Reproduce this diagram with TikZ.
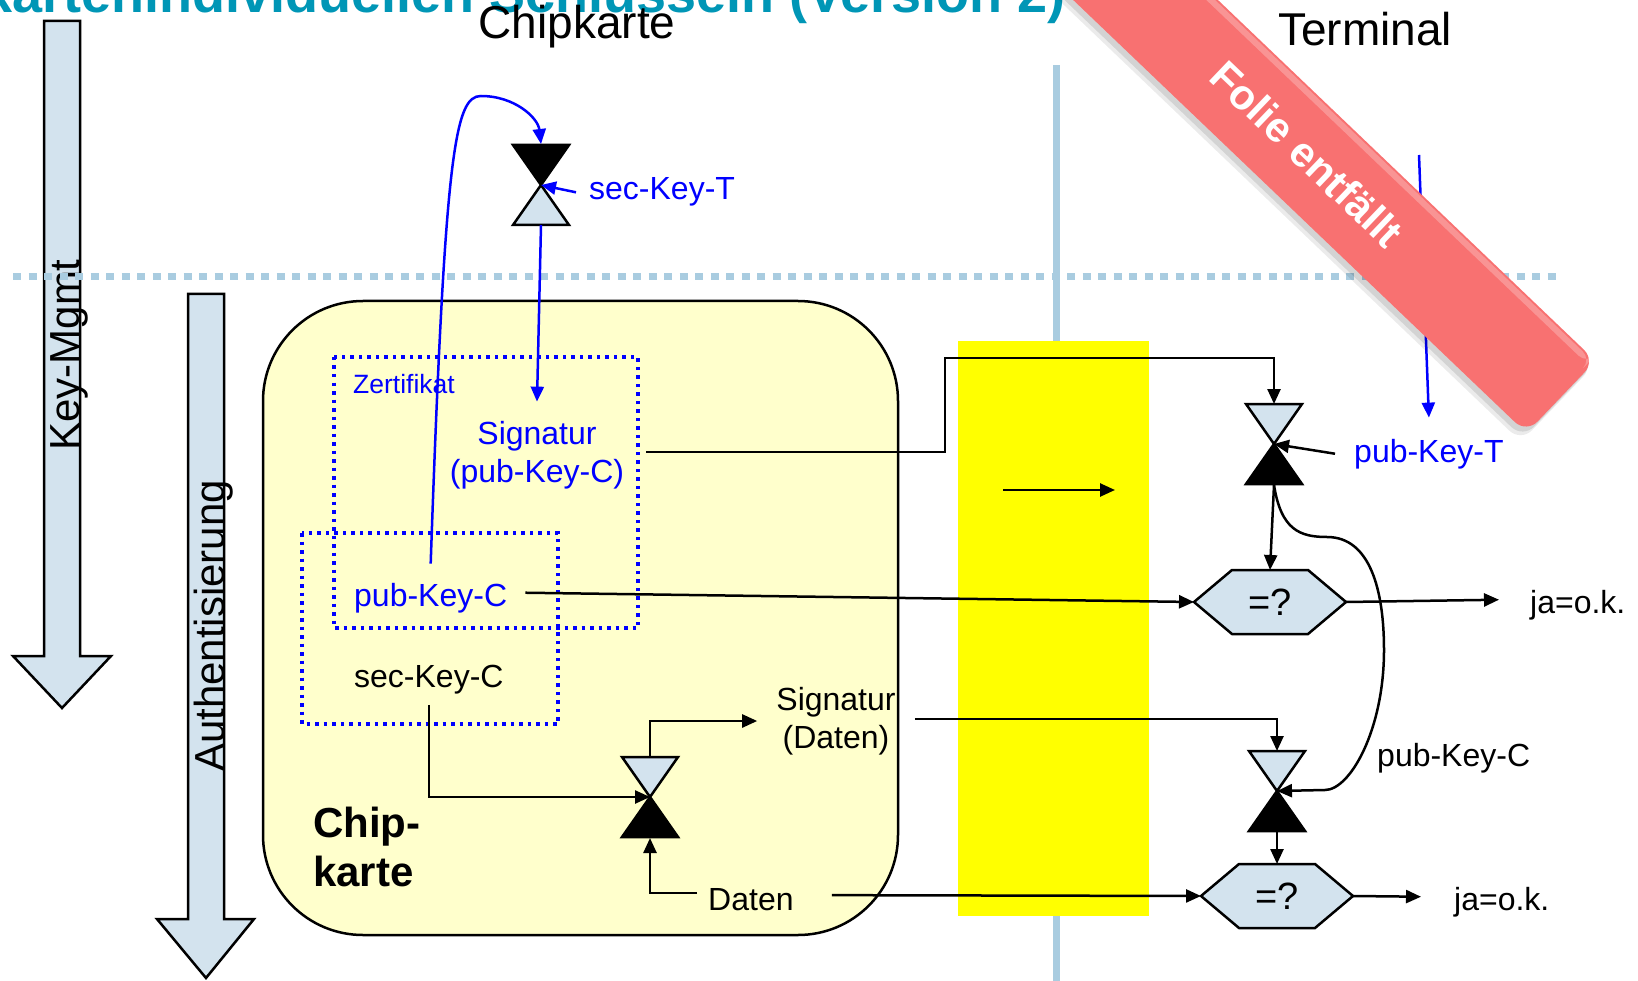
\documentclass[tikz,border=0pt]{standalone}
\usepackage{fontspec}
\setmainfont{Liberation Sans}
\usetikzlibrary{arrows.meta}

\definecolor{hellblau}{RGB}{211,227,238}
\definecolor{linienblau}{RGB}{169,204,224}
\definecolor{titelblau}{RGB}{0,150,182}
\definecolor{chipgelb}{RGB}{255,255,204}
\definecolor{gelb}{RGB}{255,255,0}
\definecolor{folienrot}{RGB}{248,113,113}

\tikzset{
  pfeil/.style={-{Triangle[length=15pt,width=13pt]}, line width=2.5pt},
  form/.style={draw, line width=2.5pt, line join=miter},
  punktbox/.style={draw=blue, line width=3.5pt, dash pattern=on 3.5pt off 5pt},
  txt/.style={inner sep=0pt, font=\fontsize{32}{38.5}\selectfont},
  klein/.style={inner sep=0pt, font=\fontsize{26.5}{30}\selectfont},
  gross/.style={inner sep=0pt, font=\fontsize{46}{52}\selectfont},
  seite/.style={inner sep=0pt, font=\fontsize{42}{48}\selectfont},
  fett/.style={inner sep=0pt, font=\fontsize{42}{49}\selectfont\bfseries}
}

% Sanduhr: Spitze, Farbe oben, Farbe unten
\newcommand{\sanduhr}[3]{%
  \draw[form, fill=#2] (#1) -- ++(-28,-40) -- ++(56,0) -- cycle;
  \draw[form, fill=#3] (#1) -- ++(-28,40) -- ++(56,0) -- cycle;}
% Vergleich (Sechseck um die Mitte)
\newcommand{\sechseck}[1]{%
  \draw[form, fill=hellblau] (#1) ++(-76,0) -- ++(38,-32) -- ++(76,0) -- ++(38,32) -- ++(-38,32) -- ++(-76,0) -- cycle;}

\begin{document}
\begin{tikzpicture}[x=1pt,y=-1pt]
        \useasboundingbox (0,0) rectangle (1638,981);
        \clip (0,0) rectangle (1638,981);

        % Coordinates
        \coordinate (ST) at (541,185);
        \coordinate (STo) at (541,144);
        \coordinate (STu) at (541,225);
        \coordinate (SC) at (650,797);
        \coordinate (SCo) at (650,757);
        \coordinate (SCu) at (650,838);
        \coordinate (SR) at (1274,444);
        \coordinate (SRo) at (1274,404);
        \coordinate (SRu) at (1274,485);
        \coordinate (SS) at (1277,791);
        \coordinate (SSo) at (1277,751);
        \coordinate (SSu) at (1277,832);
        \coordinate (H1) at (1270,602);
        \coordinate (H1l) at (1194,602);
        \coordinate (H1r) at (1346,602);
        \coordinate (H1o) at (1270,570);
        \coordinate (H2) at (1277,896);
        \coordinate (H2l) at (1201,896);
        \coordinate (H2r) at (1353,896);
        \coordinate (H2o) at (1277,864);
        \coordinate (K1) at (945,358);
        \coordinate (B1) at (1419,155);
        \coordinate (Y1) at (1003,490);
        \coordinate (Y2) at (1115,490);

        % Hintergrund
        \node[anchor=base east, inner sep=0pt, text=titelblau, font=\fontsize{54}{60}\selectfont\bfseries] (titel) at (1066,13) {kartenindividuellen Schlüsseln (Version 2)};
        \draw[linienblau, line width=7pt] (1056,65) -- (1056,981);
        \draw[form, fill=hellblau] (44,21) -- (80,21) -- (80,656) -- (111,656) -- (62,708) -- (13,656) -- (44,656) -- cycle;
        \draw[form, fill=hellblau] (188,294) -- (224,294) -- (224,919) -- (254,919) -- (206,978) -- (157,919) -- (188,919) -- cycle;
        \node[seite, rotate=90, anchor=base] (km) at (79,355) {Key-Mgmt};
        \node[seite, rotate=90, anchor=base] (auth) at (224,626) {Authentisierung};
        \draw[linienblau, line width=7pt, dash pattern=on 8pt off 7.5pt] (13,277) -- (1557,277);
        \fill[gelb] (958,341) rectangle (1149,916);
        \draw[line width=2.5pt, fill=chipgelb, rounded corners=100pt] (263,301) rectangle (898,935);
        \draw[punktbox] (334,357) rectangle (638,628);
        \draw[punktbox] (302,533) rectangle (558,724);

        % Texte
        \node[gross, anchor=base] (chip) at (577,39) {Chipkarte};
        \node[gross, anchor=base] (term) at (1365,46) {Terminal};
        \node[fett, anchor=west, align=left] (chipk) at (313,847) {Chip-\\karte};
        \node[klein, text=blue, anchor=base west] (zert) at (353,393) {Zertifikat};
        \node[txt, text=blue, align=center] (sigc) at (537,455) {Signatur\\(pub-Key-C)};
        \node[txt, text=blue, anchor=base west] (pkc) at (354,606) {pub-Key-C};
        \node[txt, anchor=base west] (skc) at (354,687) {sec-Key-C};
        \node[txt, text=blue, anchor=base west] (skt) at (589,200) {sec-Key-T};
        \node[txt, text=blue, anchor=base west] (pkt) at (1354,462) {pub-Key-T};
        \node[txt, align=center] (sigd) at (836,721) {Signatur\\(Daten)};
        \node[txt, anchor=base west] (dat) at (708,910) {Daten};
        \node[txt, anchor=base west] (pkc2) at (1377,766) {pub-Key-C};
        \node[txt, anchor=base west] (ok1) at (1530,613) {ja=o.k.};
        \node[txt, anchor=base west] (ok2) at (1454,910) {ja=o.k.};

        % Sanduhren und Vergleiche
        \sanduhr{ST}{black}{hellblau}
        \sanduhr{SC}{hellblau}{black}
        \sanduhr{SR}{hellblau}{black}
        \sanduhr{SS}{hellblau}{black}
        \sechseck{H1}
        \sechseck{H2}
        \node[inner sep=0pt, font=\fontsize{38}{44}\selectfont] (v1) at (H1) {=?};
        \node[inner sep=0pt, font=\fontsize{38}{44}\selectfont] (v2) at (H2) {=?};

        % Drawing
        \draw[pfeil, blue] ([yshift=19pt]pkc.north) .. controls (445,150) and (455,96) .. (481,96) .. controls (515,96) and (538,118) .. (STo);
        \draw[pfeil, blue] ([xshift=-13pt]skt.west) -- (ST);
        \draw[pfeil, blue] (STu) -- ([yshift=19pt]sigc.north);
        \draw[pfeil] ([xshift=22pt,yshift=3pt]sigc.east) -| (K1) -| (SRo);
        \draw[pfeil] ([xshift=-19pt]pkt.west) -- (SR);
        \draw[pfeil, blue] (B1) -- ([yshift=21pt]pkt.north);
        \draw[pfeil] (SRu) -- (H1o);
        \draw[pfeil] (SRu) .. controls (1281,530) and (1300,537) .. (1327,537) .. controls (1370,537) and (1384,590) .. (1384,650) .. controls (1384,730) and (1350,790) .. (1325,790) -- (SS);
        \draw[pfeil] ([xshift=18pt,yshift=5pt]pkc.east) -- (H1l);
        \draw[pfeil] (H1r) -- ([xshift=-31pt,yshift=5pt]ok1.west);
        \draw[pfeil] ([xshift=19pt,yshift=2pt]sigd.east) -| (SSo);
        \draw[pfeil] (SSu) -- (H2o);
        \draw[pfeil] ([xshift=38pt,yshift=4pt]dat.east) -- (H2l);
        \draw[pfeil] (H2r) -- ([xshift=-33pt,yshift=5pt]ok2.west);
        \draw[pfeil] ([yshift=-11pt]skc.south) |- (SC);
        \draw[pfeil] (SCo) |- ([xshift=-19pt]sigd.west);
        \draw[pfeil] ([xshift=-11pt,yshift=6pt]dat.west) -| (SCu);
        \draw[pfeil] (Y1) -- (Y2);

        % Banner
        \begin{scope}[shift={(1561,397)}, rotate=-43.7]
          \fill[black, opacity=0.08, rounded corners=16pt] (-900,-46) -- (2,-46) -- (2,60) -- (-900,60) -- cycle;
          \fill[black, opacity=0.10, rounded corners=16pt] (-900,-48) -- (1,-48) -- (1,56) -- (-900,56) -- cycle;
          \fill[folienrot, rounded corners=16pt] (-900,-50) -- (0,-50) -- (0,50) -- (-900,50) -- cycle;
          \fill[white, opacity=0.25, rounded corners=12pt] (-900,-48) -- (-4,-48) -- (-4,-42) -- (-900,-42) -- cycle;
        \end{scope}
        \node[rotate=-43.7, inner sep=0pt, text=white, font=\fontsize{42}{48}\selectfont\bfseries] (folie) at (1307,154) {Folie entfällt};
\end{tikzpicture}
\end{document}
